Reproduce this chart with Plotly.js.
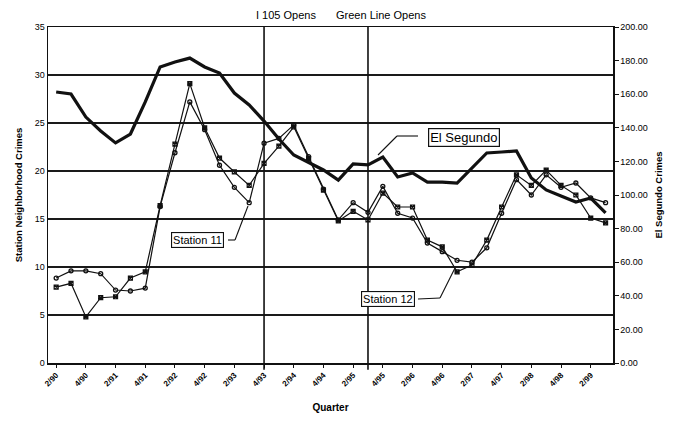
<!DOCTYPE html>
<html>
<head>
<meta charset="utf-8">
<script src="https://cdn.plot.ly/plotly-3.0.1.min.js"></script>
<style>html,body{margin:0;padding:0;background:#fff;}#chart{width:681px;height:422px;}</style>
</head>
<body>
<div id="chart"></div>
<script>
// Quarters (Q/YY), 2nd quarter 1990 to 3rd quarter 1999
const quarters = ['2/90','3/90','4/90','1/91','2/91','3/91','4/91','1/92','2/92','3/92','4/92','1/93','2/93','3/93','4/93','1/94','2/94','3/94','4/94','1/95','2/95','3/95','4/95','1/96','2/96','3/96','4/96','1/97','2/97','3/97','4/97','1/98','2/98','3/98','4/98','1/99','2/99','3/99'];
const tickLabels = ['2/90','4/90','2/91','4/91','2/92','4/92','2/93','4/93','2/94','4/94','2/95','4/95','2/96','4/96','2/97','4/97','2/98','4/98','2/99'];

// Station neighborhood crimes (left axis)
const station11 = [8.85,9.6,9.6,9.3,7.6,7.5,7.8,16.3,21.9,27.2,24.3,20.6,18.3,16.7,22.9,23.4,24.8,21.5,18.1,14.9,16.7,15.7,18.4,15.6,15.1,12.5,11.6,10.7,10.5,12.0,15.6,19.1,17.5,19.6,18.3,18.75,17.2,16.7];
const station12 = [7.9,8.3,4.8,6.8,6.9,8.85,9.5,16.4,22.8,29.1,24.5,21.35,19.9,18.5,20.8,22.6,24.6,21.3,18.0,14.8,15.8,14.9,17.7,16.25,16.25,12.8,12.1,9.5,10.2,12.8,16.25,19.6,18.5,20.1,18.5,17.5,15.1,14.6];

// El Segundo crimes (right axis)
const elSegundo = [161.3,160.1,146.4,138.1,131.0,136.3,155.4,176.2,179.2,181.5,176.2,172.6,160.7,153.6,144.0,133.3,123.8,119.6,114.9,108.9,118.5,117.9,122.6,110.7,113.1,107.7,107.7,107.1,116.1,125.0,125.6,126.2,110.1,103.0,99.4,95.8,98.2,89.3];

// Events
const eventQuarters = ['4/93','3/95'];
const eventLabels = ['I 105 Opens','Green Line Opens'];

const FONT = 'Liberation Sans, Arial, sans-serif';

const traces = [
  {x: quarters, y: station11, type: 'scatter', mode: 'lines+markers', name: 'Station 11',
   line: {color: '#111', width: 1.2},
   marker: {symbol: 'circle-open', size: 4, color: '#111', line: {width: 1.3, color: '#111'}}, yaxis: 'y'},
  {x: quarters, y: station12, type: 'scatter', mode: 'lines+markers', name: 'Station 12',
   line: {color: '#111', width: 1.2},
   marker: {symbol: 'square-x-open', size: 4, color: '#111', line: {width: 1.2, color: '#111'}}, yaxis: 'y'},
  {x: quarters, y: elSegundo, type: 'scatter', mode: 'lines', name: 'El Segundo',
   line: {color: '#111', width: 3.2}, yaxis: 'y2'}
];

function P(px, py) { return [(px - 48) / 565, (363 - py) / 336]; }

const shapes = eventQuarters.map(q => ({
  type: 'line', xref: 'x', yref: 'paper', x0: q, x1: q, y0: -0.02, y1: 1,
  line: {color: '#111', width: 1.6}, layer: 'above'
}));

function leader(pts) {
  const out = [];
  for (let i = 0; i < pts.length - 1; i++) {
    const a = P(pts[i][0], pts[i][1]), b = P(pts[i+1][0], pts[i+1][1]);
    out.push({type: 'line', xref: 'paper', yref: 'paper', x0: a[0], y0: a[1], x1: b[0], y1: b[1],
      line: {color: '#111', width: 1.1}});
  }
  return out;
}
shapes.push(...leader([[378,155],[397,136],[418,136]]));
shapes.push(...leader([[228,240],[235,240],[248,206]]));
shapes.push(...leader([[418,299],[440,298],[455,268]]));

const annotations = [
  {text: eventLabels[0], xref: 'paper', yref: 'paper', x: P(286,0)[0], y: P(0,15)[1], showarrow: false,
   font: {family: FONT, size: 11, color: '#000'}, xanchor: 'center', yanchor: 'middle'},
  {text: eventLabels[1], xref: 'paper', yref: 'paper', x: P(381,0)[0], y: P(0,15)[1], showarrow: false,
   font: {family: FONT, size: 11, color: '#000'}, xanchor: 'center', yanchor: 'middle'},
  {text: 'El Segundo', xref: 'paper', yref: 'paper', x: P(464,0)[0], y: P(0,137)[1], showarrow: false,
   font: {family: FONT, size: 13, color: '#000'}, bgcolor: '#fff', bordercolor: '#111', borderwidth: 1.2, borderpad: 1,
   xanchor: 'center', yanchor: 'middle'},
  {text: 'Station 11', xref: 'paper', yref: 'paper', x: P(197.5,0)[0], y: P(0,240)[1], showarrow: false,
   font: {family: FONT, size: 11, color: '#000'}, bgcolor: '#fff', bordercolor: '#111', borderwidth: 1.1, borderpad: 1,
   xanchor: 'center', yanchor: 'middle'},
  {text: 'Station 12', xref: 'paper', yref: 'paper', x: P(388,0)[0], y: P(0,299)[1], showarrow: false,
   font: {family: FONT, size: 11, color: '#000'}, bgcolor: '#fff', bordercolor: '#111', borderwidth: 1.1, borderpad: 1,
   xanchor: 'center', yanchor: 'middle'}
];

const layout = {
  width: 681, height: 422,
  margin: {l: 48, r: 68, t: 27, b: 59},
  paper_bgcolor: '#fff', plot_bgcolor: '#fff',
  showlegend: false,
  font: {family: FONT, color: '#000'},
  xaxis: {
    type: 'category', categoryorder: 'array', categoryarray: quarters,
    range: [-0.55, 37.5],
    tickmode: 'array', tickvals: tickLabels, ticktext: tickLabels, tickangle: -45,
    tickfont: {family: FONT, size: 8, color: '#000', weight: 'bold'},
    showline: true, linecolor: '#111', linewidth: 1.5, mirror: true,
    ticks: 'outside', ticklen: 3, tickcolor: '#111', showgrid: false, zeroline: false,
    title: {text: 'Quarter', font: {family: FONT, size: 10, color: '#000', weight: 'bold'}, standoff: 16}
  },
  yaxis: {
    range: [0, 35], dtick: 5, tick0: 0,
    showgrid: true, gridcolor: '#1a1a1a', gridwidth: 1.4,
    showline: true, linecolor: '#111', linewidth: 1.5, zeroline: false,
    ticks: '', tickfont: {family: FONT, size: 9, color: '#000'},
    title: {text: 'Station Neighborhood Crimes', font: {family: FONT, size: 9.5, color: '#000', weight: 'bold'}, standoff: 10}
  },
  yaxis2: {
    overlaying: 'y', side: 'right', range: [0, 200], dtick: 20, tick0: 0, tickformat: '.2f',
    showgrid: false, showline: true, linecolor: '#111', linewidth: 1.5, zeroline: false,
    ticks: 'outside', ticklen: 4, tickcolor: '#111',
    tickfont: {family: FONT, size: 9, color: '#000'},
    title: {text: 'El Segundo Crimes', font: {family: FONT, size: 9.5, color: '#000', weight: 'bold'}, standoff: 8}
  },
  shapes: shapes,
  annotations: annotations
};

Plotly.newPlot('chart', traces, layout, {staticPlot: true, displayModeBar: false});
</script>
</body>
</html>
